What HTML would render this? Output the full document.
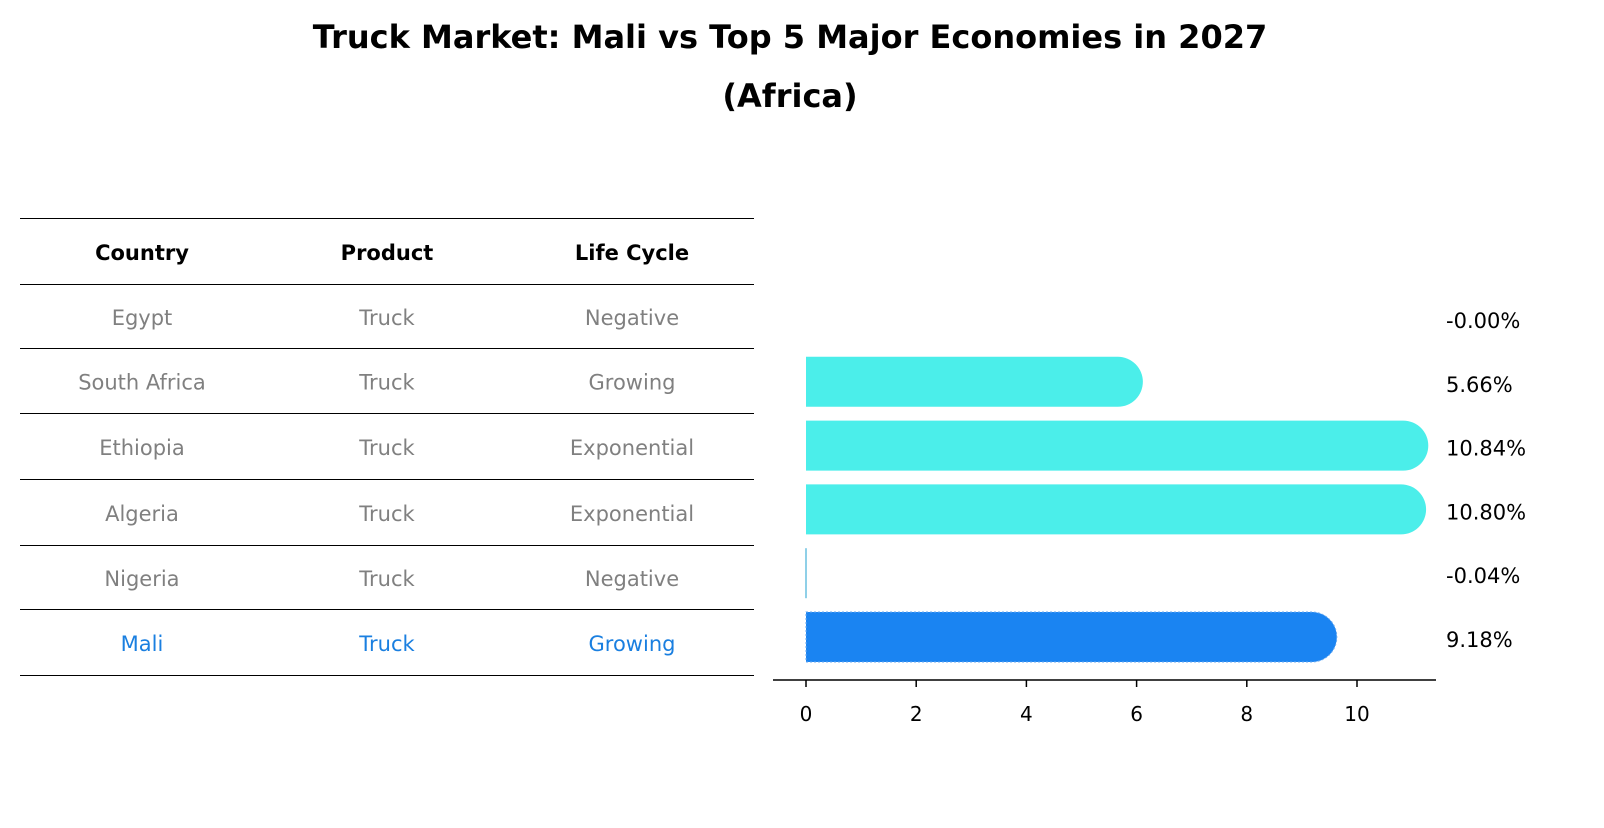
<!DOCTYPE html>
<html><head><meta charset="utf-8">
<style>
body{margin:0;background:#fff;}
svg text{font-family:"DejaVu Sans","Liberation Sans",sans-serif;}
</style></head>
<body>
<svg width="1604" height="823" xmlns="http://www.w3.org/2000/svg">
<text x="790" y="48" text-anchor="middle" font-size="32" font-weight="bold">Truck Market: Mali vs Top 5 Major Economies in 2027</text>
<text x="790" y="107" text-anchor="middle" font-size="32" font-weight="bold">(Africa)</text>
<g id="table"></g>
<g id="bars"></g>
</svg>
<script>
const countries=["Egypt","South Africa","Ethiopia","Algeria","Nigeria","Mali"];
const products=["Truck","Truck","Truck","Truck","Truck","Truck"];
const lifeCycles=["Negative","Growing","Exponential","Exponential","Negative","Growing"];
const values=[-0.001,5.66,10.84,10.80,-0.04,9.18];
const valueLabels=["-0.00%","5.66%","10.84%","10.80%","-0.04%","9.18%"];
const xTicks=[0,2,4,6,8,10];

const NS="http://www.w3.org/2000/svg";
function mk(tag,attrs,parent){const e=document.createElementNS(NS,tag);for(const k in attrs)e.setAttribute(k,attrs[k]);parent.appendChild(e);return e;}
const table=document.getElementById('table');
const lineYs=[218,284,348,413,479,545,609,675];
lineYs.forEach(y=>{const l=mk('line',{x1:20,x2:754,y1:y+0.5,y2:y+0.5,stroke:'#000','stroke-width':1},table);

});
const colX=[142,387,632];
["Country","Product","Life Cycle"].forEach((h,i)=>{const t=mk('text',{x:colX[i],y:260,'text-anchor':'middle','font-size':21,'font-weight':'bold'},table);t.textContent=h;

});
const rowY=i=>(lineYs[i+1]+lineYs[i+2])/2+9;
countries.forEach((c,i)=>{const col=c==="Mali"?"#1a7fe0":"#808080";
[c,products[i],lifeCycles[i]].forEach((v,j)=>{const t=mk('text',{x:colX[j],y:rowY(i),'text-anchor':'middle','font-size':21,fill:col},table);t.textContent=v;

});});

const bars=document.getElementById('bars');
const x0=806,scale=55.1;const xs=v=>x0+v*scale;
const barCY=i=>318+i*63.8;
const H=50,R=25;
values.forEach((v,i)=>{const cy=barCY(i);let e;
if(Math.abs(v)<0.02){return;}
if(v<0.05){e=mk('rect',{x:x0-1,y:cy-H/2,width:2,height:H,fill:'#8fd0e8'},bars);}
else{const xe=xs(v);const col=countries[i]==="Mali"?"#1a84f2":"#4beeea";
e=mk('path',{d:`M${x0},${cy-H/2} L${xe},${cy-H/2} A${R},${R} 0 0 1 ${xe},${cy+H/2} L${x0},${cy+H/2} Z`,fill:col},bars);
if(countries[i]==="Mali"){e.setAttribute('stroke','#6aaaf0');e.setAttribute('stroke-dasharray','2,2');e.setAttribute('stroke-width','1');}}

});
values.forEach((v,i)=>{const t=mk('text',{x:1446,y:barCY(i)+10,'font-size':21},bars);t.textContent=valueLabels[i];

});
const ax=mk('line',{x1:773,x2:1436,y1:680,y2:680,stroke:'#000','stroke-width':1.5},bars);


xTicks.forEach(t=>{const l=mk('line',{x1:xs(t),x2:xs(t),y1:680,y2:687,stroke:'#000','stroke-width':1.5},bars);


const tx=mk('text',{x:xs(t),y:721,'text-anchor':'middle','font-size':20},bars);tx.textContent=t;

});
</script>
</body></html>
